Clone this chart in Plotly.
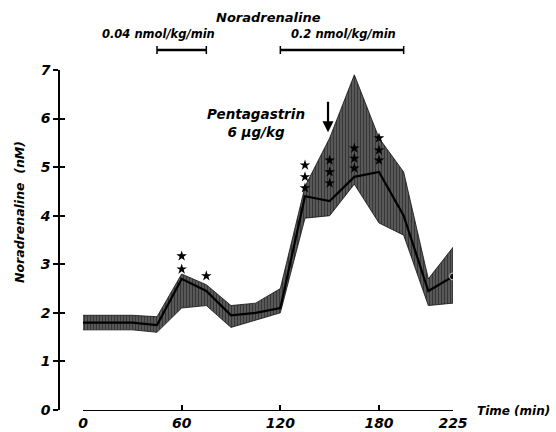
import plotly.graph_objects as go

# ---- data ----
times = [0, 15, 30, 45, 60, 75, 90, 105, 120, 135, 150, 165, 180, 195, 210, 225]
mean_na = [1.8, 1.8, 1.8, 1.75, 2.7, 2.45, 1.95, 2.0, 2.1, 4.4, 4.3, 4.8, 4.9, 4.0, 2.45, 2.75]
upper_na = [1.95, 1.95, 1.95, 1.92, 2.8, 2.58, 2.15, 2.2, 2.5, 4.6, 5.6, 6.9, 5.6, 4.9, 2.7, 3.35]
lower_na = [1.65, 1.65, 1.65, 1.6, 2.1, 2.15, 1.7, 1.85, 2.0, 3.95, 4.0, 4.65, 3.85, 3.6, 2.15, 2.2]

star_t = [60, 60, 75, 135, 135, 135, 150, 150, 150, 165, 165, 165, 180, 180, 180]
star_v = [3.17, 2.9, 2.76, 5.04, 4.8, 4.57, 5.14, 4.9, 4.67, 5.39, 5.18, 4.98, 5.6, 5.35, 5.14]

y_ticks = [0, 1, 2, 3, 4, 5, 6, 7]
x_ticks = [0, 60, 120, 180, 225]

low_dose = (45, 75)
high_dose = (120, 195)
low_dose_label = "0.04 nmol/kg/min"
high_dose_label = "0.2 nmol/kg/min"
pentagastrin_time = 149

FONT = "DejaVu Sans"
W, H = 556, 432
ML, MR, MT, MB = 59, 103, 70, 22
PW = W - ML - MR
PH = H - MT - MB


def px_x(p):
    return (p - ML) / PW


def px_y(p):
    return (H - MB - p) / PH


fig = go.Figure()

# SEM band
fig.add_trace(go.Scatter(
    x=times + times[::-1],
    y=upper_na + lower_na[::-1],
    fill="toself",
    fillcolor="#2a2a2a",
    fillpattern=dict(shape="|", fgcolor="#000000", bgcolor="#6e6e6e", size=3, solidity=0.6),
    line=dict(color="#111111", width=0.8),
    mode="lines",
    hoverinfo="skip",
    showlegend=False,
))

# mean line
fig.add_trace(go.Scatter(
    x=times, y=mean_na, mode="lines+markers",
    line=dict(color="black", width=2.2),
    marker=dict(size=[0] * (len(times) - 1) + [7], color="black"),
    showlegend=False,
))

# significance stars
fig.add_trace(go.Scatter(
    x=star_t, y=star_v, mode="markers",
    marker=dict(symbol="star", size=8, color="black"),
    showlegend=False,
))

# invisible trace for cross-tick overlay axis
fig.add_trace(go.Scatter(x=[0], y=[0], yaxis="y2", mode="markers",
                         marker=dict(opacity=0), showlegend=False, hoverinfo="skip"))

font_bi = dict(family=FONT, size=14, color="black", weight="bold", style="italic")

fig.update_layout(
    width=W, height=H, autosize=False,
    margin=dict(l=ML, r=MR, t=MT, b=MB, autoexpand=False),
    paper_bgcolor="white", plot_bgcolor="white",
    font=font_bi,
    xaxis=dict(
        domain=[px_x(83), 1], range=[0, 225], automargin=False,
        tickvals=x_ticks, ticktext=[str(v) for v in x_ticks],
        showline=True, linecolor="black", linewidth=1.2,
        ticks="inside", ticklen=5, tickwidth=1.5, tickcolor="black",
        showgrid=False, zeroline=False, tickfont=font_bi,
    ),
    yaxis=dict(
        range=[0, 7], anchor="free", position=0, automargin=False,
        tickvals=y_ticks, ticktext=[str(v) for v in y_ticks],
        showline=True, linecolor="black", linewidth=1.5,
        ticks="outside", ticklen=5, tickwidth=1.5, tickcolor="black",
        showgrid=False, zeroline=False, tickfont=font_bi,
    ),
    yaxis2=dict(
        range=[0, 7], overlaying="y", anchor="free", position=0, automargin=False,
        tickvals=y_ticks, showticklabels=False,
        showline=False, ticks="inside", ticklen=5, tickwidth=1.5, tickcolor="black",
        showgrid=False, zeroline=False,
    ),
)

# infusion bars
bar_y = px_y(50)
cap = 4 / PH
for (t0, t1) in (low_dose, high_dose):
    fig.add_shape(type="line", xref="x", yref="paper", x0=t0, x1=t1, y0=bar_y, y1=bar_y,
                  line=dict(color="black", width=2.5))
    for t in (t0, t1):
        fig.add_shape(type="line", xref="x", yref="paper", x0=t, x1=t,
                      y0=bar_y - cap, y1=bar_y + cap, line=dict(color="black", width=1.5))

ann = []
ann.append(dict(text="Noradrenaline", xref="paper", yref="paper", x=px_x(268), y=px_y(17),
                showarrow=False, xanchor="center", yanchor="middle",
                font=dict(family=FONT, size=13, weight="bold", style="italic", color="black")))
ann.append(dict(text=low_dose_label, xref="paper", yref="paper", x=px_x(158), y=px_y(34),
                showarrow=False, xanchor="center", yanchor="middle",
                font=dict(family=FONT, size=11.5, weight="bold", style="italic", color="black")))
ann.append(dict(text=high_dose_label, xref="paper", yref="paper", x=px_x(343), y=px_y(34),
                showarrow=False, xanchor="center", yanchor="middle",
                font=dict(family=FONT, size=11.5, weight="bold", style="italic", color="black")))
ann.append(dict(text="Pentagastrin<br>6 µg/kg", xref="paper", yref="paper", x=px_x(256), y=px_y(123),
                showarrow=False, xanchor="center", yanchor="middle",
                font=dict(family=FONT, size=13.5, weight="bold", style="italic", color="black")))
ann.append(dict(text="", x=pentagastrin_time, y=5.72, xref="x", yref="y",
                showarrow=True, ax=0, ay=-32, arrowhead=2, arrowsize=1, arrowwidth=2.2,
                arrowcolor="black"))
ann.append(dict(text="Noradrenaline  (nM)", xref="paper", yref="paper", x=px_x(19), y=px_y(212),
                showarrow=False, textangle=-90, xanchor="center", yanchor="middle",
                font=dict(family=FONT, size=12.5, weight="bold", style="italic", color="black")))
ann.append(dict(text="Time (min)", xref="paper", yref="paper", x=px_x(513), y=px_y(411),
                showarrow=False, xanchor="center", yanchor="middle",
                font=dict(family=FONT, size=12, weight="bold", style="italic", color="black")))
fig.update_layout(annotations=ann)

fig.write_html("out.html", config={"displayModeBar": False},
               post_script="document.body.style.margin='0';document.body.style.overflow='hidden';")
